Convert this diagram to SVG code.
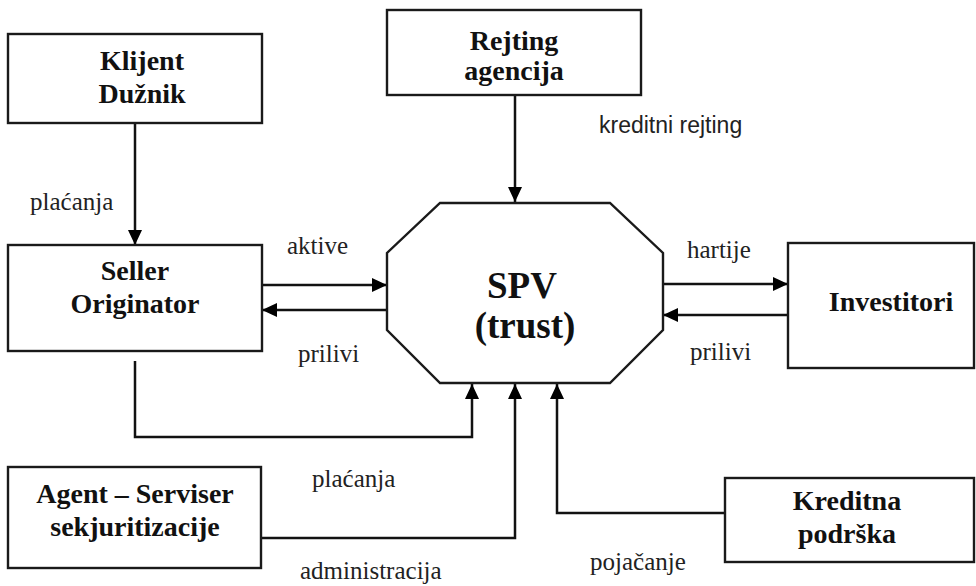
<svg xmlns="http://www.w3.org/2000/svg" width="976" height="586" viewBox="0 0 976 586">
<defs>
<marker id="ah" viewBox="0 0 15 14" refX="15" refY="7" markerWidth="15" markerHeight="14" markerUnits="userSpaceOnUse" orient="auto">
<path d="M0,0 L15,7 L0,14 Z" fill="#000"/>
</marker>
<style>
.box{fill:#fff;stroke:#1a1a1a;stroke-width:2.4}
.b{font-family:"Liberation Serif","Times New Roman",serif;font-weight:bold;font-size:28px;fill:#111;text-anchor:middle}
.spv{font-family:"Liberation Serif","Times New Roman",serif;font-weight:bold;font-size:37px;fill:#111;text-anchor:middle}
.l{font-family:"Liberation Serif","Times New Roman",serif;font-size:25px;fill:#222}
.s{font-family:"Liberation Sans",Arial,sans-serif;font-size:23px;fill:#222}
.c{fill:none;stroke:#111;stroke-width:2.5}
</style>
</defs>
<rect width="976" height="586" fill="#fff"/>
<g id="connectors">
<line class="c" x1="135" y1="123" x2="135" y2="245" marker-end="url(#ah)"/>
<line class="c" x1="515" y1="95" x2="515" y2="202" marker-end="url(#ah)"/>
<line class="c" x1="262" y1="285" x2="387" y2="285" marker-end="url(#ah)"/>
<line class="c" x1="387" y1="310" x2="262" y2="310" marker-end="url(#ah)"/>
<line class="c" x1="663" y1="284" x2="788" y2="284" marker-end="url(#ah)"/>
<line class="c" x1="788" y1="315" x2="663" y2="315" marker-end="url(#ah)"/>
<polyline class="c" points="135,361 135,437 472,437 472,384" marker-end="url(#ah)"/>
<polyline class="c" points="261,538 515,538 515,384" marker-end="url(#ah)"/>
<polyline class="c" points="725,513 557,513 557,384" marker-end="url(#ah)"/>
<text class="l" x="30" y="210">plaćanja</text>
<text class="s" x="599" y="133">kreditni rejting</text>
<text class="l" x="287" y="254">aktive</text>
<text class="l" x="298" y="362">prilivi</text>
<text class="l" x="687" y="258">hartije</text>
<text class="l" x="690" y="360">prilivi</text>
<text class="l" x="312" y="487">plaćanja</text>
<text class="l" x="300" y="579">administracija</text>
<text class="l" x="590" y="570">pojačanje</text>
</g>
<g id="klijent">
<rect class="box" x="8" y="34" width="254" height="89"/>
<text class="b" x="142" y="70">Klijent</text>
<text class="b" x="142" y="103">Dužnik</text>
</g>
<g id="rejting">
<rect class="box" x="387" y="10" width="254" height="85"/>
<text class="b" x="514" y="50">Rejting</text>
<text class="b" x="514" y="80">agencija</text>
</g>
<g id="seller">
<rect class="box" x="8" y="245" width="254" height="106"/>
<text class="b" x="135" y="280">Seller</text>
<text class="b" x="135" y="313">Originator</text>
</g>
<g id="spv">
<polygon class="box" points="440,203 610,203 663,253 663,330 610,383 440,383 387,330 387,253"/>
<text class="spv" x="522" y="298">SPV</text>
<text class="spv" x="525" y="338">(trust)</text>
</g>
<g id="investitori">
<rect class="box" x="788" y="243" width="186" height="125"/>
<text class="b" x="891" y="311">Investitori</text>
</g>
<g id="agent">
<rect class="box" x="8" y="467" width="253" height="101"/>
<text class="b" x="135" y="503">Agent – Serviser</text>
<text class="b" x="135" y="536">sekjuritizacije</text>
</g>
<g id="kreditna">
<rect class="box" x="725" y="478" width="249" height="84"/>
<text class="b" x="847" y="510">Kreditna</text>
<text class="b" x="847" y="543">podrška</text>
</g>
</svg>
